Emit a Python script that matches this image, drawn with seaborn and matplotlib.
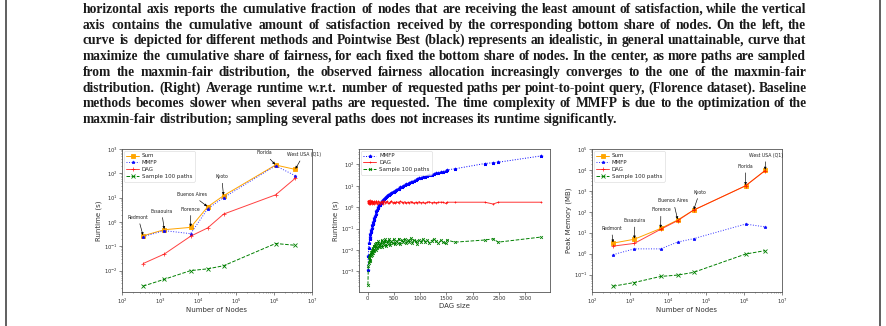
import matplotlib
matplotlib.use("Agg")
import matplotlib.pyplot as plt
import seaborn as sns
import numpy as np
import pandas as pd
from matplotlib.lines import Line2D

# ---------------- data ----------------
cities = ["Redmont", "Essaouira", "Florence", "Buenos Aires", "Kyoto", "Florida", "West USA (Q1)"]
nodes = [360, 1300, 6400, 18000, 47000, 1.1e6, 3.6e6]

rt_sum = [0.27, 0.48, 0.60, 4.2, 12, 220, 145]
rt_mmfp = [0.25, 0.44, 0.33, 3.5, 10, 205, 80]
rt_dag = [0.0195, 0.048, 0.26, 0.57, 2.1, 13, 62]
rt_sample = [0.0023, 0.0044, 0.010, 0.0118, 0.0158, 0.13, 0.11]

mem_sum = [3.2, 4.9, 16, 41, 120, 1750, 9500]
mem_dag = [2.3, 3.1, 14.6, 38, 120, 1750, 9300]
mem_mmfp = [0.9, 1.7, 1.7, 3.6, 5.2, 26, 19]
mem_sample = [0.028, 0.042, 0.082, 0.095, 0.128, 0.96, 1.4]

dag_size = [5, 12, 20, 28, 35, 42, 50, 58, 66, 75, 85, 95, 105, 115, 128, 140, 152, 165,
            178, 190, 205, 220, 235, 250, 265, 280, 298, 315, 332, 350, 370, 390, 410, 430,
            452, 475, 498, 520, 545, 570, 595, 620, 648, 675, 702, 730, 760, 790, 820, 850,
            880, 912, 945, 980, 1015, 1050, 1090, 1130, 1170, 1215, 1260, 1300, 1345, 1400,
            1433, 1484, 1510, 1657, 2230, 2389, 2484, 3305]
ds_mmfp = [0.00112, 0.0050, 0.0126, 0.020, 0.032, 0.042, 0.056, 0.071, 0.089, 0.105, 0.141,
           0.158, 0.20, 0.24, 0.30, 0.40, 0.50, 0.66, 0.76, 0.89, 1.05, 1.2, 1.32, 1.58, 1.74,
           2.0, 2.14, 2.5, 2.63, 3.0, 3.16, 3.6, 3.8, 4.3, 4.6, 5.0, 5.2, 5.8, 6.3, 6.9, 7.2,
           8.3, 8.7, 9.5, 10.5, 11.5, 12.0, 13.5, 14.5, 15.5, 17.4, 18.6, 20, 21.9, 22.9, 25,
           27, 29, 31.6, 33, 36, 38, 41, 44, 45, 51, 55, 62, 110, 120, 126, 250]
ds_dag = [1.6, 2.0, 1.4, 1.8, 2.1, 1.5, 1.35, 1.9, 1.7, 1.4, 2.0, 1.5, 1.8, 1.35, 1.9, 1.5, 1.7,
          2.0, 1.4, 1.6, 1.9, 1.7, 1.45, 1.8, 1.55, 1.9, 1.45, 2.0, 1.6, 1.7, 1.85, 1.55, 1.5,
          1.75, 1.95, 1.6, 1.7, 1.5, 1.8, 1.7, 1.6, 1.9, 1.7, 1.6, 1.8, 1.5, 1.7, 1.6, 1.8, 1.7,
          1.5, 1.7, 1.6, 1.8, 1.6, 1.7, 1.5, 1.7, 1.8, 1.6, 1.7, 1.6, 1.7, 1.7, 1.7, 1.5, 1.7,
          1.7, 1.7, 1.4, 1.7, 1.7]
ds_sample = [0.00023, 0.0017, 0.0025, 0.0045, 0.0030, 0.0060, 0.0035, 0.0080, 0.0050, 0.0100,
             0.0060, 0.0120, 0.0075, 0.0160, 0.0090, 0.0190, 0.0100, 0.0220, 0.0120, 0.0160,
             0.0260, 0.0130, 0.0210, 0.0150, 0.0300, 0.0140, 0.0230, 0.0170, 0.0320, 0.0150,
             0.0250, 0.0190, 0.0340, 0.0170, 0.0260, 0.0200, 0.0310, 0.0180, 0.0270, 0.0220,
             0.0340, 0.0190, 0.0280, 0.0230, 0.0320, 0.0200, 0.0290, 0.0240, 0.0350, 0.0210,
             0.0300, 0.0250, 0.0190, 0.0280, 0.0230, 0.0320, 0.0240, 0.0290, 0.0220, 0.0270,
             0.0310, 0.0250, 0.0210, 0.0280, 0.0230, 0.0200, 0.0290, 0.0230, 0.0290, 0.0330,
             0.0230, 0.0400]

# annotation text positions (data coords)
ann_pos_rt = [(265, 1.55), (1100, 2.8), (6450, 3.4), (6800, 13.5), (42000, 72), (5.6e5, 690), (6.0e6, 590)]
ann_pos_mem = [(325, 16), (1350, 38), (6500, 124), (13800, 333), (68000, 870), (1.1e6, 14800), (3.7e6, 50000)]

caption = [
    "horizontal axis reports the cumulative fraction of nodes that are receiving the least amount of satisfaction, while the vertical",
    "axis contains the cumulative amount of satisfaction received by the corresponding bottom share of nodes. On the left, the",
    "curve is depicted for different methods and Pointwise Best (black) represents an idealistic, in general unattainable, curve that",
    "maximize the cumulative share of fairness, for each fixed the bottom share of nodes. In the center, as more paths are sampled",
    "from the maxmin-fair distribution, the observed fairness allocation increasingly converges to the one of the maxmin-fair",
    "distribution. (Right) Average runtime w.r.t. number of requested paths per point-to-point query, (Florence dataset). Baseline",
    "methods becomes slower when several paths are requested. The time complexity of MMFP is due to the optimization of the",
    "maxmin-fair distribution; sampling several paths does not increases its runtime significantly.",
]

# ---------------- style ----------------
sns.set_theme(style="ticks")
plt.rcParams["font.family"] = ["DejaVu Sans"]
plt.rcParams.update({
    "axes.edgecolor": "#555555",
    "axes.linewidth": 0.6,
    "xtick.color": "#555555",
    "ytick.color": "#555555",
    "xtick.labelcolor": "#333333",
    "ytick.labelcolor": "#333333",
    "xtick.major.size": 2.0,
    "ytick.major.size": 2.0,
    "xtick.minor.size": 1.0,
    "ytick.minor.size": 1.0,
    "xtick.major.width": 0.5,
    "ytick.major.width": 0.5,
    "xtick.minor.width": 0.4,
    "ytick.minor.width": 0.4,
    "xtick.labelsize": 3.8,
    "ytick.labelsize": 3.8,
    "axes.labelsize": 5.0,
    "axes.labelcolor": "#333333",
})

W, H = 887, 326
fig = plt.figure(figsize=(W / 100, H / 100), dpi=100)
fig.patch.set_facecolor("white")


def ax_at(x0, x1, y0, y1):
    return fig.add_axes([x0 / W, 1 - y1 / H, (x1 - x0) / W, (y1 - y0) / H])


ax1 = ax_at(122, 312, 149, 292)
ax2 = ax_at(359, 550, 149, 292)
ax3 = ax_at(592, 782, 149, 292)

LW = 0.7
MS = 2.2
styles = {
    "Sum": dict(color="orange", linestyle="-", marker="s"),
    "MMFP": dict(color="blue", linestyle=":", marker="*"),
    "DAG": dict(color="red", linestyle="-", marker="+"),
    "Sample 100 paths": dict(color="green", linestyle="--", marker="x"),
}


def draw(ax, x, y, name, alpha=1.0, ms=MS):
    st = styles[name]
    sns.lineplot(x=x, y=y, ax=ax, estimator=None, sort=False, label=name,
                 color=st["color"], linestyle=st["linestyle"], marker=st["marker"],
                 markersize=ms, linewidth=LW, alpha=alpha,
                 markeredgecolor=st["color"], markeredgewidth=0.6)


# ---- left: runtime vs nodes ----
draw(ax1, nodes, rt_sum, "Sum")
draw(ax1, nodes, rt_mmfp, "MMFP", alpha=0.8)
draw(ax1, nodes, rt_dag, "DAG", alpha=0.75)
draw(ax1, nodes, rt_sample, "Sample 100 paths")
ax1.set_xscale("log")
ax1.set_yscale("log")
ax1.set_xlim(1e2, 1e7)
ax1.set_ylim(10 ** -2.88, 1e3)
ax1.set_xlabel("Number of Nodes", labelpad=1)
ax1.set_ylabel("Runtime (s)", labelpad=1)

# ---- middle: runtime vs DAG size ----
draw(ax2, dag_size, ds_mmfp, "MMFP", ms=2.4)
draw(ax2, dag_size, ds_dag, "DAG", alpha=0.8, ms=2.0)
draw(ax2, dag_size, ds_sample, "Sample 100 paths", ms=2.0)
ax2.set_yscale("log")
ax2.set_xlim(-165, 3470)
ax2.set_ylim(10 ** -3.97, 10 ** 2.72)
ax2.set_xticks([0, 500, 1000, 1500, 2000, 2500, 3000])
ax2.set_xlabel("DAG size", labelpad=1)
ax2.set_ylabel("Runtime (s)", labelpad=1)

# ---- right: memory vs nodes ----
draw(ax3, nodes, mem_sum, "Sum")
draw(ax3, nodes, mem_mmfp, "MMFP", alpha=0.8)
draw(ax3, nodes, mem_dag, "DAG", alpha=0.75)
draw(ax3, nodes, mem_sample, "Sample 100 paths")
ax3.set_xscale("log")
ax3.set_yscale("log")
ax3.set_xlim(1e2, 1e7)
ax3.set_ylim(10 ** -1.83, 1e5)
ax3.set_xlabel("Number of Nodes", labelpad=1)
ax3.set_ylabel("Peak Memory (MB)", labelpad=1)

for ax in (ax1, ax2, ax3):
    ax.tick_params(axis="both", pad=1.2)
    leg = ax.legend(loc="upper left", fontsize=4.0, frameon=True, handlelength=2.2,
                    borderpad=0.4, labelspacing=0.35, handletextpad=0.6,
                    borderaxespad=0.4, fancybox=True)
    leg.get_frame().set_linewidth(0.4)
    leg.get_frame().set_edgecolor("#cccccc")

arrow = dict(arrowstyle="-|>", color="black", lw=0.45, mutation_scale=3.5,
             shrinkA=0.5, shrinkB=0.5)
for ax, pos, vals in ((ax1, ann_pos_rt, rt_sum), (ax3, ann_pos_mem, mem_sum)):
    for name, (tx, ty), xv, yv in zip(cities, pos, nodes, vals):
        ax.annotate(name, xy=(xv, yv), xytext=(tx, ty), textcoords="data",
                    fontsize=3.3, color="#222222", ha="center", va="center",
                    arrowprops=arrow, annotation_clip=False)

# ---------------- caption (justified, one text per word) ----------------
fig.canvas.draw()
renderer = fig.canvas.get_renderer()
cap_font = dict(family=["Liberation Serif", "DejaVu Serif"], weight="bold", color="#1a1a1a")
left_px, right_px = 83, 806
avail = right_px - left_px
base_size = 9.75
HAIR = "\u200a"


def tw(s, size):
    t = fig.text(0, 0, s, fontsize=size, **cap_font)
    w = t.get_window_extent(renderer).width
    t.remove()
    return w


for i, line in enumerate(caption):
    words = line.split()
    n = len(words)
    size = base_size
    nat = tw(line, size)
    if nat > avail:
        size = size * avail / nat * 0.997
        nat = tw(line, size)
    seps = [" "] * (n - 1)
    if i < len(caption) - 1:
        hair_w = (tw("a" + HAIR * 10 + "b", size) - tw("ab", size)) / 10.0
        if hair_w > 0.05:
            total = int(round((avail - nat) / hair_w))
            per, rem = divmod(max(total, 0), n - 1)
            seps = [" " + HAIR * (per + (1 if k < rem else 0)) for k in range(n - 1)]
    yb = 1 - round(13 + 15.7 * i) / H
    prefix = ""
    for k, w in enumerate(words):
        prefix = w if k == 0 else prefix + seps[k - 1] + w
        start = 0.0 if k == 0 else tw(prefix, size) - tw(w, size)
        fig.text((left_px + start) / W, yb, w, fontsize=size, ha="left",
                 va="baseline", **cap_font)

# page frame lines
for xp in (6, 880.5):
    fig.add_artist(Line2D([xp / W, xp / W], [0, 1], color="#444444", linewidth=1.2,
                          transform=fig.transFigure))

fig.savefig("out.png", dpi=100)
